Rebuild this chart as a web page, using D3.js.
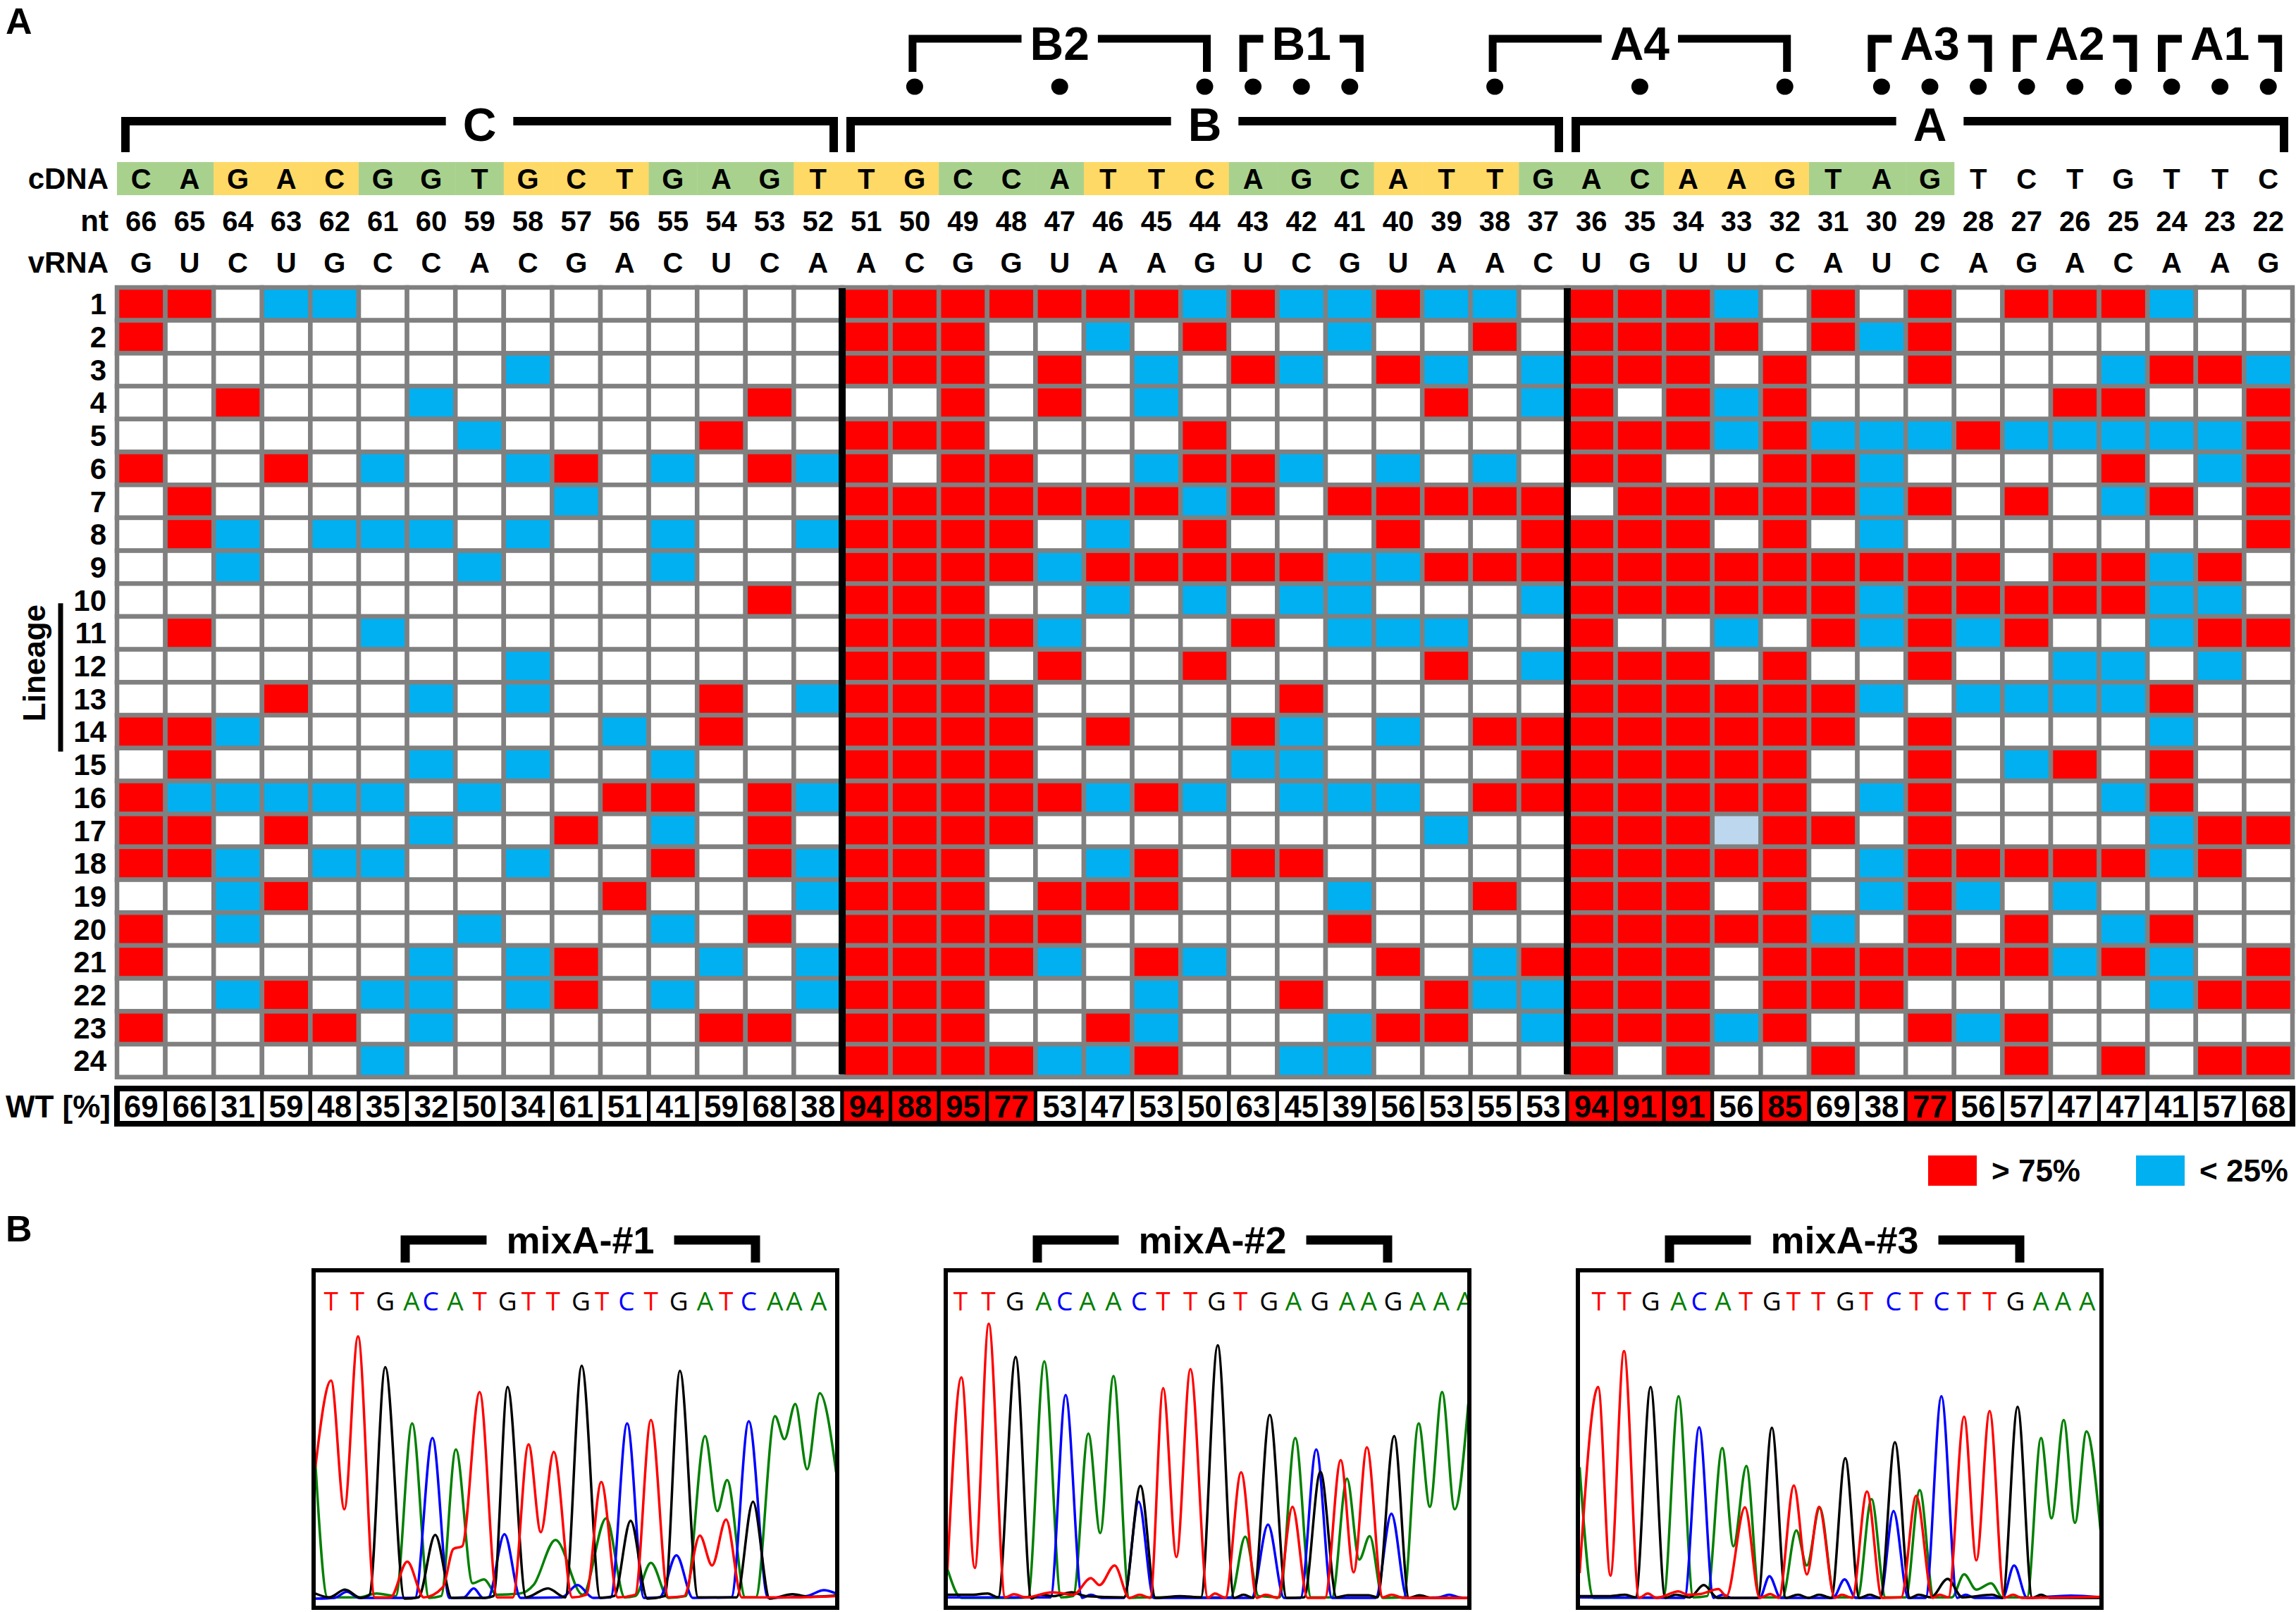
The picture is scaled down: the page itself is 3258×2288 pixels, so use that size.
<!DOCTYPE html>
<html>
<head>
<meta charset="utf-8">
<script src="https://cdn.jsdelivr.net/npm/d3@7"></script>
<style>
  body { margin: 0; background: #fff; }
</style>
</head>
<body>
<div id="chart"></div>
<script>
// ---- data ----
const ntPositions = [66,65,64,63,62,61,60,59,58,57,56,55,54,53,52,51,50,49,48,47,46,45,44,43,42,41,40,39,38,37,36,35,34,33,32,31,30,29,28,27,26,25,24,23,22];
const cdnaBases = "CAGACGGTGCTGAGTTGCCATTCAGCATTGACAAGTAGTCTGTTC".split("");
const vrnaBases = "GUCUGCCACGACUCAACGGUAAGUCGUAACUGUUCAUCAGACAAG".split("");
// codon number of each cDNA base (0 = outside the reading frame)
const cdnaCodon = [1,1,2,2,2,3,3,3,4,4,4,5,5,5,6,6,6,7,7,7,8,8,8,9,9,9,10,10,10,11,11,11,12,12,12,13,13,13,0,0,0,0,0,0,0];

const mainRegions = [
  {label: "C", from: 66, to: 52},
  {label: "B", from: 51, to: 37},
  {label: "A", from: 36, to: 22}
];
const subRegions = [
  {label: "B2", from: 50, to: 44},
  {label: "B1", from: 43, to: 41},
  {label: "A4", from: 38, to: 32},
  {label: "A3", from: 30, to: 28},
  {label: "A2", from: 27, to: 25},
  {label: "A1", from: 24, to: 22}
];
const dotSites = [50,47,44,43,42,41,38,35,32,30,29,28,27,26,25,24,23,22];

const lineages = [1,2,3,4,5,6,7,8,9,10,11,12,13,14,15,16,17,18,19,20,21,22,23,24];
// R = WT > 75%, B = WT < 25%, L = faint < 25%, . = in between ; columns nt 66 -> 22
const lineageCalls = [
  "RR.BB.........." + "RRRRRRRBRBBRBB." + "RRRB.R.R.RRRB..",
  "R.............." + "RRR..B.R..B..R." + "RRRR.RBR.......",
  "........B......" + "RRR.R.B.RB.RB.B" + "RRR.R..R...BRRB",
  "..R...B......R." + "..R.R.B.....R.B" + "R.RBR.....RR..R",
  ".......B....R.." + "RRR....R......." + "RRRBRBBBRBBBBBR",
  "R..R.B..BR.B.RB" + "R.RR..BRRB.B.B." + "RR..RRB....R.BR",
  ".R.......B....." + "RRRRRRRBR.RRRRR" + ".RRRRRBR.R.BR.R",
  ".RB.BBB.B..B..B" + "RRRR.B.R...R..R" + "RRR.R.B.......R",
  "..B....B...B..." + "RRRRBRRRRRBBRRR" + "RRRRRRRRR.RRBR.",
  ".............R." + "RRR..B.B.BB...B" + "RRRRRRBRRRRRBB.",
  ".R...B........." + "RRRRB...R.BBB.." + "R..B.RBRBR..BRR",
  "........B......" + "RRR.R..R....R.B" + "RRR.R..R..BB.B.",
  "...R..B.B...R.B" + "RRRR.....R....." + "RRRRRRB.BBBBR..",
  "RRB.......B.R.." + "RRRR.R..RB.B.RR" + "RRRRRR.R....B..",
  ".R....B.B..B..." + "RRRR....BB....R" + "RRRRR..R.BR.R..",
  "RBBBBB.B..RR.RB" + "RRRRRBRB.BBB.RR" + "RRRRR.BR...BR..",
  "RR.R..B..R.B.R." + "RRRR........B.." + "RRRLRR.R....BRR",
  "RRB.BB..B..R.RB" + "RRR..BR.RR....." + "RRRRR.BRRRRRBR.",
  "..BR......R...B" + "RRR.RRR...B..R." + "RRR.R.BRB.B....",
  "R.B....B...B.R." + "RRRRR.....R...." + "RRRRRB.R.R.BR..",
  "R.....B.BR..B.B" + "RRRRB.RB...R.BR" + "RRR.RRRRRRBRB.R",
  "..BR.BB.BR.B..B" + "RRR...B..R..RBB" + "RRR.RRR.....BRR",
  "R..RR.B.....RR." + "RRR..RB...BRR.B" + "RRRBR..RBR.....",
  ".....B........." + "RRRRBBR..BB...." + "R.R..R...R.R.RR"
];
const wtPercent = [69,66,31,59,48,35,32,50,34,61,51,41,59,68,38,94,88,95,77,53,47,53,50,63,45,39,56,53,55,53,94,91,91,56,85,69,38,77,56,57,47,47,41,57,68];
const legendLabels = ["> 75%", "< 25%"];

// ---- panel B: Sanger traces, [scan position, signal] ----
const mixTitles = ["mixA-#1", "mixA-#2", "mixA-#3"];
const mixSeqs = ["TTGACATGTTGTCTGATCAAA", "TTGACAACTTGTGAGAAGAAA", "TTGACATGTTGTCTCTTGAAA"];
const mixCalls = [
  [80,155,235,310,365,435,505,585,645,715,795,855,925,995,1075,1150,1210,1275,1350,1405,1475],
  [72,152,228,310,370,435,510,583,652,730,805,873,955,1025,1100,1178,1240,1310,1380,1448,1515],
  [90,163,238,318,377,445,510,585,647,718,795,855,933,998,1070,1135,1208,1282,1355,1418,1487]
];
const mix1A = [[35,535],[70,5],[160,5],[210,20],[265,10],[312,687],[360,3],[395,10],[437,585],[485,60],[517,75],[555,15],[620,20],[660,55],[722,230],[800,15],[867,315],[920,5],[950,10],[995,140],[1045,3],[1095,10],[1150,637],[1185,343],[1213,465],[1265,5],[1295,5],[1350,715],[1377,625],[1408,763],[1442,507],[1478,805],[1525,495]];
const mix1C = [[35,0],[90,3],[125,27],[160,3],[320,3],[370,630],[418,3],[460,5],[488,40],[515,3],[530,5],[576,253],[622,3],[740,5],[785,53],[830,3],[880,5],[927,687],[975,3],[1020,5],[1068,170],[1115,3],[1225,5],[1275,695],[1330,3],[1440,10],[1490,33],[1525,20]];
const mix1G = [[35,20],[75,5],[120,35],[165,3],[190,15],[235,907],[290,0],[330,5],[378,250],[425,3],[520,3],[545,10],[585,830],[638,5],[700,40],[750,5],[797,913],[850,3],[890,10],[937,305],[985,0],[1035,10],[1078,893],[1130,5],[1240,5],[1287,380],[1335,0],[1400,17],[1450,7],[1525,12]];
const mix1T = [[35,515],[80,855],[118,350],[157,1028],[205,5],[250,5],[298,145],[345,5],[400,45],[430,195],[455,205],[505,810],[555,5],[600,5],[645,605],[680,260],[717,575],[770,5],[810,15],[853,457],[900,5],[950,15],[995,700],[1045,5],[1090,10],[1135,247],[1170,130],[1210,310],[1255,5],[1400,5],[1525,10]];

const mix2A = [[35,115],[75,3],[225,3],[265,5],[312,930],[360,5],[395,10],[438,647],[472,257],[510,873],[555,3],[600,5],[800,5],[845,5],[887,243],[925,10],[985,5],[1030,630],[1075,5],[1135,5],[1178,470],[1213,153],[1243,245],[1280,3],[1340,5],[1383,687],[1415,360],[1450,810],[1486,350],[1525,765]];
const mix2C = [[35,5],[330,5],[373,798],[420,3],[445,15],[475,3],[540,3],[582,380],[625,3],[905,3],[952,290],[998,3],[1045,3],[1090,585],[1135,3],[1260,3],[1305,333],[1350,3],[1440,5],[1470,15],[1500,5],[1525,3]];
const mix2G = [[35,15],[100,15],[150,20],[180,5],[230,947],[275,0],[300,15],[340,10],[390,25],[430,10],[540,5],[587,442],[630,3],[700,10],[760,5],[808,993],[855,3],[882,15],[910,3],[957,720],[1005,3],[1055,5],[1102,497],[1148,5],[1180,13],[1240,13],[1265,5],[1313,637],[1355,3],[1385,13],[1420,3],[1525,3]];
const mix2T = [[35,115],[75,867],[113,120],[153,1077],[200,5],[225,17],[260,5],[335,25],[395,15],[445,80],[470,53],[513,130],[555,3],[585,15],[615,3],[652,825],[690,163],[730,900],[780,3],[800,20],[830,3],[875,495],[920,3],[945,15],[980,3],[1022,360],[1065,3],[1115,3],[1160,543],[1197,103],[1235,593],[1280,5],[1305,15],[1340,3],[1525,3]];

const mix3A = [[35,515],[75,3],[275,5],[318,793],[360,5],[400,10],[443,590],[475,205],[512,520],[550,5],[615,5],[655,267],[685,130],[722,357],[765,5],[830,5],[870,390],[910,5],[968,5],[1008,425],[1048,5],[1100,5],[1135,95],[1170,35],[1212,60],[1245,5],[1315,5],[1355,630],[1385,315],[1420,700],[1452,297],[1485,655],[1525,270]];
const mix3C = [[35,5],[335,3],[377,672],[418,3],[445,15],[470,3],[550,3],[578,88],[610,3],[760,3],[793,75],[825,3],[895,3],[933,343],[975,3],[1025,3],[1070,793],[1115,3],[1140,15],[1165,3],[1245,3],[1278,130],[1315,3],[1440,12],[1525,5]];
const mix3G = [[35,10],[120,10],[165,15],[195,5],[238,830],[280,3],[310,15],[350,5],[390,53],[430,3],[545,3],[585,670],[625,3],[660,15],[690,3],[720,15],[755,3],[795,550],[835,3],[865,15],[895,3],[937,613],[980,3],[1005,15],[1040,5],[1088,77],[1130,5],[1215,15],[1245,3],[1288,752],[1330,3],[1355,15],[1380,3],[1525,3]];
const mix3T = [[35,100],[88,830],[123,90],[162,970],[205,3],[230,20],[255,3],[318,28],[345,15],[380,18],[432,37],[455,10],[508,358],[550,3],[580,18],[605,3],[648,443],[685,95],[720,360],[765,3],[785,15],[815,3],[857,420],[900,3],[955,5],[998,403],[1045,3],[1065,15],[1090,5],[1135,713],[1170,150],[1208,735],[1250,3],[1275,15],[1300,3],[1525,7]];

const mixTraces = [
  {A: mix1A, C: mix1C, G: mix1G, T: mix1T},
  {A: mix2A, C: mix2C, G: mix2G, T: mix2T},
  {A: mix3A, C: mix3C, G: mix3G, T: mix3T}
];

// ---- drawing ----
const W = 3258, H = 2288;
const callColor = {R: "#ff0000", B: "#00b0f0", L: "#bdd7ee", ".": "#ffffff"};
const baseColor = {A: "#008000", C: "#0000ff", G: "#000000", T: "#ff0000"};

const svg = d3.select("#chart").append("svg")
  .attr("width", W).attr("height", H)
  .style("font-family", "'Liberation Sans', Arial, sans-serif")
  .style("font-weight", "bold");
svg.append("rect").attr("width", W).attr("height", H).attr("fill", "#fff");

const grid = {left: 166, top: 408, colW: 68.6, rowH: 46.7};
const x = d3.scaleBand().domain(ntPositions)
  .range([grid.left, grid.left + ntPositions.length * grid.colW]);
const y = d3.scaleBand().domain(lineages)
  .range([grid.top, grid.top + lineages.length * grid.rowH]);
const cx = nt => x(nt) + x.bandwidth() / 2;
const gridRight = x.range()[1], gridBottom = y.range()[1];

function bracket(g, x1, x2, yBar, yLeg, label, baseline, size, gap, thick) {
  const mid = (x1 + x2) / 2;
  const t = g.append("text").attr("x", mid).attr("y", baseline)
    .attr("text-anchor", "middle").attr("font-size", size).text(label);
  const half = t.node().getComputedTextLength() / 2 + gap;
  g.append("path")
    .attr("d", `M${x1},${yLeg}V${yBar}H${Math.max(x1, mid - half)}`)
    .attr("fill", "none").attr("stroke", "#000").attr("stroke-width", thick);
  g.append("path")
    .attr("d", `M${Math.min(x2, mid + half)},${yBar}H${x2}V${yLeg}`)
    .attr("fill", "none").attr("stroke", "#000").attr("stroke-width", thick);
}

// panel labels
svg.append("text").attr("x", 8).attr("y", 48).attr("font-size", 52).text("A");
svg.append("text").attr("x", 8).attr("y", 1762).attr("font-size", 52).text("B");

// region brackets
const brk = svg.append("g");
mainRegions.forEach(r => {
  bracket(brk, x(r.from) + 12, x(r.to) + x.bandwidth() - 12, 172, 216, r.label, 200, 66, 24, 12);
});
subRegions.forEach(r => {
  const span = ntPositions.indexOf(r.to) - ntPositions.indexOf(r.from) + 1;
  const pad = span <= 3 ? 14 : 3;
  bracket(brk, cx(r.from) - pad, cx(r.to) + pad, 55, 102, r.label, 85, 66, 12, 11);
});
brk.selectAll("ellipse").data(dotSites).join("ellipse")
  .attr("cx", d => cx(d)).attr("cy", 123).attr("rx", 12).attr("ry", 11.5).attr("fill", "#000");

// sequence header
const head = svg.append("g");
head.selectAll("rect.codon").data(ntPositions.filter((d, i) => cdnaCodon[i] > 0)).join("rect")
  .attr("class", "codon")
  .attr("x", d => x(d)).attr("y", 230).attr("width", x.bandwidth() + 0.5).attr("height", 47)
  .attr("fill", d => cdnaCodon[ntPositions.indexOf(d)] % 2 ? "#a9d18e" : "#ffd966");
const headRows = [
  {label: "cDNA", base: 268, values: cdnaBases},
  {label: "nt", base: 328, values: ntPositions.map(String)},
  {label: "vRNA", base: 387, values: vrnaBases}
];
headRows.forEach(row => {
  head.append("text").attr("x", 154).attr("y", row.base).attr("text-anchor", "end")
    .attr("font-size", 42).text(row.label);
  head.append("g").selectAll("text").data(row.values).join("text")
    .attr("x", (d, i) => cx(ntPositions[i])).attr("y", row.base)
    .attr("text-anchor", "middle").attr("font-size", 40).text(d => d);
});

// lineage grid
const cells = [];
lineageCalls.forEach((s, i) => s.split("").forEach((c, j) => {
  cells.push({lineage: lineages[i], nt: ntPositions[j], call: c});
}));
svg.append("g").selectAll("rect").data(cells).join("rect")
  .attr("x", d => x(d.nt)).attr("y", d => y(d.lineage))
  .attr("width", x.bandwidth()).attr("height", y.bandwidth())
  .attr("fill", d => callColor[d.call])
  .attr("stroke", "#808080").attr("stroke-width", 6.5);

svg.append("g").selectAll("line").data(mainRegions.slice(1)).join("line")
  .attr("x1", d => x(d.from)).attr("x2", d => x(d.from))
  .attr("y1", grid.top + 1).attr("y2", gridBottom - 4)
  .attr("stroke", "#000").attr("stroke-width", 10);

svg.append("g").selectAll("text").data(lineages).join("text")
  .attr("x", 151).attr("y", d => y(d) + y.bandwidth() / 2 + 15)
  .attr("text-anchor", "end").attr("font-size", 42).text(d => d);

svg.append("text").attr("transform", `translate(64,${(y(10) + y(15)) / 2 - 4}) rotate(-90)`)
  .attr("text-anchor", "middle").attr("font-size", 44).text("Lineage");
svg.append("line").attr("x1", 86).attr("x2", 86).attr("y1", y(10) + 28).attr("y2", y(14) + y.bandwidth() + 5)
  .attr("stroke", "#000").attr("stroke-width", 7);

// WT row
const wt = svg.append("g");
const wtTop = 1545, wtH = 50;
wt.selectAll("rect").data(wtPercent).join("rect")
  .attr("x", (d, i) => x(ntPositions[i])).attr("y", wtTop)
  .attr("width", x.bandwidth()).attr("height", wtH)
  .attr("fill", d => d > 75 ? "#ff0000" : "#fff")
  .attr("stroke", "#000").attr("stroke-width", 5);
wt.append("rect").attr("x", grid.left).attr("y", wtTop).attr("width", gridRight - grid.left).attr("height", wtH)
  .attr("fill", "none").attr("stroke", "#000").attr("stroke-width", 8);
wt.selectAll("text.v").data(wtPercent).join("text").attr("class", "v")
  .attr("x", (d, i) => cx(ntPositions[i])).attr("y", wtTop + wtH / 2 + 16)
  .attr("text-anchor", "middle").attr("font-size", 44).text(d => d);
wt.append("text").attr("x", 157).attr("y", wtTop + wtH / 2 + 16).attr("text-anchor", "end")
  .attr("font-size", 44).text("WT [%]");

// legend
const legend = svg.append("g");
[["R", 2736], ["B", 3031]].forEach(([c, lx], i) => {
  legend.append("rect").attr("x", lx).attr("y", 1640).attr("width", 69).attr("height", 43).attr("fill", callColor[c]);
  legend.append("text").attr("x", lx + 90).attr("y", 1677).attr("font-size", 44).text(legendLabels[i]);
});

// panel B chromatograms
const line = d3.line().curve(d3.curveMonotoneX);
mixTitles.forEach((title, i) => {
  const boxL = 445 + i * 897, boxT = 1803, boxW = 743, boxH = 479;
  const g = svg.append("g");
  const sx = d3.scaleLinear().domain([30, 1528]).range([boxL, boxL + boxW]);
  const sy = d3.scaleLinear().domain([0, 1287]).range([boxT + 466, boxT]);
  g.append("rect").attr("x", boxL).attr("y", boxT).attr("width", boxW).attr("height", boxH)
    .attr("fill", "#fff");
  const clipId = "clip" + i;
  g.append("clipPath").attr("id", clipId).append("rect")
    .attr("x", boxL + 3).attr("y", boxT + 3).attr("width", boxW - 6).attr("height", boxH - 6);
  const inner = g.append("g").attr("clip-path", `url(#${clipId})`);
  ["A", "C", "G", "T"].forEach(b => {
    inner.append("path")
      .attr("d", line(mixTraces[i][b].map(p => [sx(p[0]), sy(p[1])])))
      .attr("fill", "none").attr("stroke", baseColor[b]).attr("stroke-width", 3.5)
      .attr("stroke-linejoin", "round");
  });
  inner.selectAll("text").data(mixSeqs[i].split("")).join("text")
    .attr("x", (d, k) => sx(mixCalls[i][k])).attr("y", boxT + 57)
    .attr("text-anchor", "middle")
    .style("font-family", "'Open Sans', 'DejaVu Sans', sans-serif").style("font-weight", "normal")
    .attr("font-size", 37).attr("fill", d => baseColor[d]).text(d => d);
  g.append("rect").attr("x", boxL).attr("y", boxT).attr("width", boxW).attr("height", boxH)
    .attr("fill", "none").attr("stroke", "#000").attr("stroke-width", 6);
  bracket(g, boxL + 130, boxL + 627, 1760, 1792, title, 1779, 54, 28, 13);
});
</script>
</body>
</html>
